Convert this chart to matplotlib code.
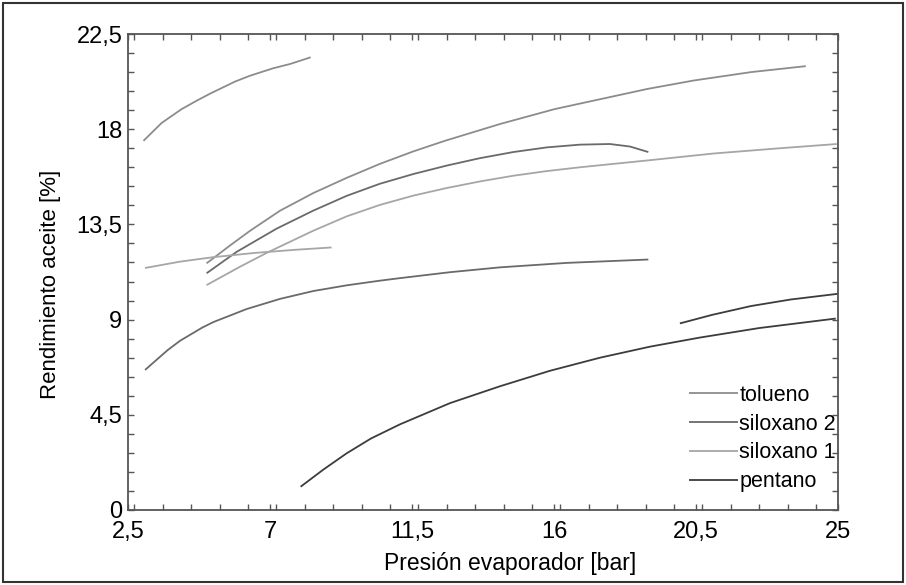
import numpy as np
import matplotlib
matplotlib.use("Agg")
import matplotlib.pyplot as plt
from matplotlib.patches import Rectangle
from matplotlib.ticker import MultipleLocator, FuncFormatter

plt.rcParams['font.family'] = ['Liberation Sans', 'DejaVu Sans']

# data (presion [bar], rendimiento [%])
tol_a_x = [2.99, 3.57, 4.20, 4.68, 5.10, 5.89, 6.37, 7.10, 7.63, 8.29]
tol_a_y = [17.45, 18.3, 18.95, 19.35, 19.68, 20.25, 20.53, 20.88, 21.08, 21.40]
tol_b_x = [4.99, 5.73, 6.37, 7.32, 8.37, 9.43, 10.48, 11.54, 12.54, 14.3, 16.02, 18.95, 20.42, 22.25, 23.98]
tol_b_y = [11.66, 12.5, 13.2, 14.15, 14.98, 15.7, 16.36, 16.95, 17.45, 18.25, 18.95, 19.9, 20.3, 20.7, 20.98]

sil2_a_x = [4.99, 5.94, 7.21, 8.37, 9.43, 10.48, 11.54, 12.60, 13.65, 14.71, 15.77, 16.82, 17.77, 18.41, 18.99]
sil2_a_y = [11.19, 12.2, 13.3, 14.15, 14.85, 15.42, 15.88, 16.28, 16.63, 16.92, 17.14, 17.27, 17.30, 17.18, 16.92]
sil2_b_x = [3.04, 3.75, 4.15, 4.85, 5.20, 6.26, 7.32, 8.37, 9.43, 10.48, 11.12, 12.7, 14.29, 16.40, 18.99]
sil2_b_y = [6.62, 7.55, 8.0, 8.62, 8.88, 9.5, 9.98, 10.35, 10.62, 10.84, 10.96, 11.24, 11.47, 11.68, 11.84]

sil1_a_x = [4.99, 6.05, 6.89, 8.37, 9.43, 10.48, 11.54, 12.60, 13.65, 14.71, 15.77, 16.82, 18.94, 21.05, 23.16, 24.96]
sil1_a_y = [10.63, 11.5, 12.15, 13.2, 13.88, 14.42, 14.86, 15.22, 15.53, 15.8, 16.02, 16.2, 16.52, 16.85, 17.1, 17.30]
sil1_b_x = [3.04, 4.15, 5.2, 6.5, 7.8, 8.95]
sil1_b_y = [11.44, 11.74, 11.95, 12.15, 12.3, 12.41]

pen_a_x = [7.97, 8.70, 9.43, 10.2, 11.12, 12.70, 14.29, 15.87, 17.46, 19.04, 20.62, 22.5, 24.93]
pen_a_y = [1.10, 1.92, 2.68, 3.38, 4.05, 5.05, 5.85, 6.58, 7.2, 7.72, 8.15, 8.6, 9.05]
pen_b_x = [19.99, 21.0, 22.24, 23.5, 25.0]
pen_b_y = [8.82, 9.22, 9.64, 9.95, 10.22]

labels = ["tolueno", "siloxano 2", "siloxano 1", "pentano"]
colors = ["#8c8c8c", "#6a6a6a", "#a6a6a6", "#3c3c3c"]

xticks = [2.5, 7, 11.5, 16, 20.5, 25]
yticks = [0, 4.5, 9, 13.5, 18, 22.5]

fig = plt.figure(figsize=(9.06, 5.85), dpi=100)
ax = fig.add_axes([128/906, 75/585, 710/906, 476/585])

lw = 1.3
series = [
    ([(tol_a_x, tol_a_y), (tol_b_x, tol_b_y)], colors[0], labels[0]),
    ([(sil2_a_x, sil2_a_y), (sil2_b_x, sil2_b_y)], colors[1], labels[1]),
    ([(sil1_a_x, sil1_a_y), (sil1_b_x, sil1_b_y)], colors[2], labels[2]),
    ([(pen_a_x, pen_a_y), (pen_b_x, pen_b_y)], colors[3], labels[3]),
]
for curves, c, lab in series:
    for i, (xs, ys) in enumerate(curves):
        ax.plot(xs, ys, color=c, lw=lw, label=lab if i == 0 else None,
                solid_capstyle='butt', solid_joinstyle='round')

ax.set_xlim(2.5, 25)
ax.set_ylim(0, 22.5)
ax.set_xticks(xticks)
ax.set_yticks(yticks)
ax.xaxis.set_minor_locator(MultipleLocator(0.9))
ax.yaxis.set_minor_locator(MultipleLocator(0.9))
fmt = FuncFormatter(lambda v, p: ("%g" % v).replace(".", ","))
ax.xaxis.set_major_formatter(fmt)
ax.yaxis.set_major_formatter(fmt)

ax.tick_params(which='both', direction='in', top=True, right=True,
               length=4, width=1, color='#555555')
ax.tick_params(axis='x', which='major', labelsize=17, pad=8)
ax.tick_params(axis='y', which='major', labelsize=17, pad=4)
for s in ax.spines.values():
    s.set_color('#555555')
    s.set_linewidth(1.3)

ax.set_xlabel("Presión evaporador [bar]", fontsize=16.5)
ax.set_ylabel("Rendimiento aceite [%]", fontsize=16)
ax.xaxis.set_label_coords(0.538, -0.088)
ax.yaxis.set_label_coords(-0.094, 0.474)

ax.legend(loc='center left', bbox_to_anchor=(0.79, 0.15), frameon=False,
          fontsize=15.5, handlelength=2.3, handletextpad=0.05,
          labelspacing=0.36, borderpad=0, borderaxespad=0)

# outer frame round the whole figure
fig.patches.append(Rectangle((3/906, 3/585), 900/906, 579/585, transform=fig.transFigure,
                             fill=False, edgecolor='#333333', lw=1.5))

fig.savefig("out.png", dpi=100)
